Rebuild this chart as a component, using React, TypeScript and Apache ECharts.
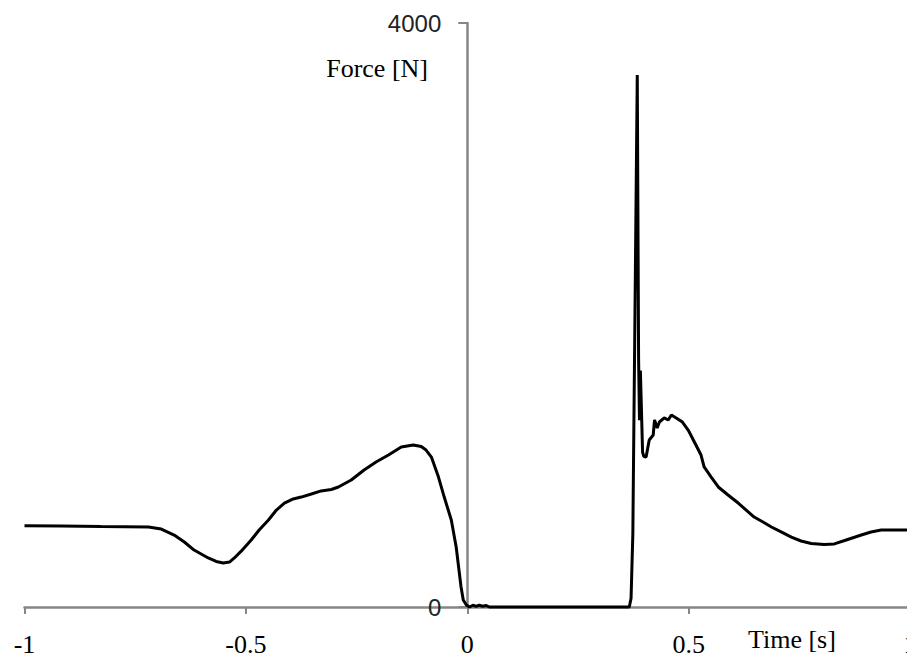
import React, { useEffect, useRef } from "react";
import * as echarts from "echarts";

const timeValues = [
  -1.0, -0.917, -0.827, -0.72, -0.691, -0.662, -0.639, -0.617, -0.585, -0.567,
  -0.551, -0.537, -0.526, -0.51, -0.488, -0.47, -0.449, -0.431, -0.413, -0.393,
  -0.375, -0.352, -0.33, -0.307, -0.291, -0.262, -0.233, -0.206, -0.178, -0.149,
  -0.122, -0.104, -0.093, -0.081, -0.065, -0.052, -0.036, -0.025, -0.014, -0.009,
  -0.002, 0.005, 0.013, 0.02, 0.027, 0.035, 0.043, 0.05, 0.06, 0.366,
  0.37, 0.374, 0.384, 0.387, 0.389, 0.391, 0.393, 0.396, 0.399, 0.404,
  0.411, 0.42, 0.423, 0.429, 0.434, 0.445, 0.454, 0.461, 0.472, 0.486,
  0.499, 0.513, 0.528, 0.535, 0.551, 0.567, 0.589, 0.612, 0.63, 0.648,
  0.668, 0.687, 0.709, 0.732, 0.754, 0.777, 0.806, 0.829, 0.856, 0.89,
  0.912, 0.935, 0.969, 1.0,
];

const forceValues = [
  557, 555, 551, 548, 534, 493, 445, 390, 336, 312,
  301, 308, 336, 384, 459, 527, 596, 664, 712, 740,
  753, 774, 795, 805, 822, 870, 938, 993, 1041, 1096,
  1110, 1099, 1075, 1027, 890, 753, 596, 411, 137, 48,
  14, 0, 12, 4, 12, 5, 10, 0, 0, 0,
  60, 500, 3644, 1700, 1280, 1620, 1400, 1060, 1030, 1027,
  1144, 1178, 1281, 1226, 1267, 1295, 1281, 1315, 1295, 1267,
  1212, 1130, 1041, 959, 890, 822, 767, 712, 664, 616,
  582, 548, 514, 479, 452, 435, 428, 432, 459, 493,
  514, 527, 527, 527,
];

const xTicks = { min: -1, max: 1, interval: 0.5 };
const yTicks = { min: 0, max: 4000, interval: 4000 };
const xTitle = "Time [s]";
const yTitle = "Force [N]";

export default function App() {
  const ref = useRef<HTMLDivElement>(null);
  useEffect(() => {
    if (!ref.current) return;
    const chart = echarts.init(ref.current, null, { renderer: "svg" });
    const axisGray = "#868686";
    const gridLeft = 24.5;
    const gridWidth = 885.5;
    const zeroOffset = gridWidth * ((0 - xTicks.min) / (xTicks.max - xTicks.min));
    chart.setOption({
      animation: false,
      backgroundColor: "#ffffff",
      grid: {
        left: gridLeft,
        top: 23,
        width: gridWidth,
        height: 584,
        containLabel: false,
        outerBoundsMode: "none",
      },
      xAxis: {
        type: "value",
        min: xTicks.min,
        max: xTicks.max,
        interval: xTicks.interval,
        splitLine: { show: false },
        axisLine: { onZero: false, lineStyle: { color: axisGray, width: 2.5 } },
        axisTick: { show: true, length: 7, lineStyle: { color: axisGray, width: 2 } },
        axisLabel: {
          margin: 24,
          color: "#000",
          fontFamily: "Liberation Serif",
          fontSize: 26,
          showMinLabel: true,
          showMaxLabel: true,
        },
      },
      yAxis: {
        type: "value",
        position: "left",
        offset: -zeroOffset,
        min: yTicks.min,
        max: yTicks.max,
        interval: yTicks.interval,
        splitLine: { show: false },
        axisLine: { show: true, onZero: false, lineStyle: { color: axisGray, width: 2.5 } },
        axisTick: { show: true, length: 9, lineStyle: { color: axisGray, width: 2 } },
        axisLabel: {
          margin: 26,
          color: "#222",
          fontFamily: "Liberation Sans",
          fontSize: 24,
          formatter: (v: number) => String(v),
        },
      },
      graphic: [
        {
          type: "text",
          x: 428,
          y: 68,
          style: {
            text: yTitle,
            fill: "#000",
            font: "26px 'Liberation Serif'",
            textAlign: "right",
            textVerticalAlign: "middle",
          },
        },
        {
          type: "text",
          x: 748,
          y: 639,
          style: {
            text: xTitle,
            fill: "#000",
            font: "26px 'Liberation Serif'",
            textAlign: "left",
            textVerticalAlign: "middle",
          },
        },
      ],
      series: [
        {
          type: "line",
          data: timeValues.map((t, i) => [t, forceValues[i]]),
          showSymbol: false,
          symbol: "none",
          lineStyle: { color: "#000", width: 3 },
          clip: false,
        },
      ],
    });
    return () => chart.dispose();
  }, []);
  return (
    <div
      ref={ref}
      style={{ position: "fixed", left: 0, top: 0, width: 907, height: 658, background: "#fff" }}
    />
  );
}
